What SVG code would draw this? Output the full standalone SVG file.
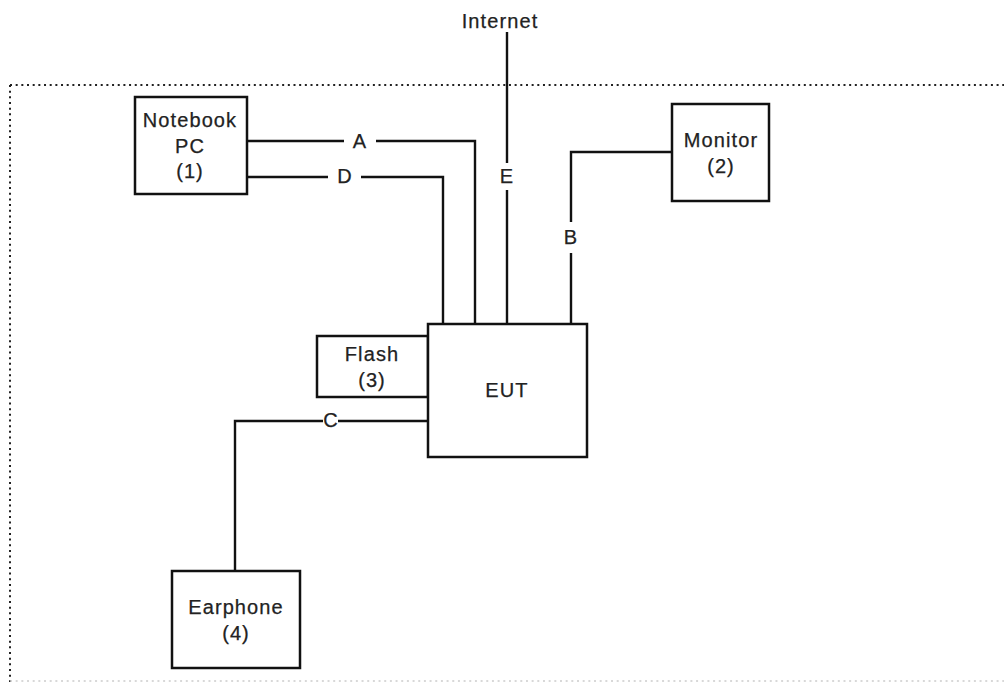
<svg xmlns="http://www.w3.org/2000/svg" width="1004" height="682" viewBox="0 0 1004 682">
<style>
.box{fill:#fff;stroke:#111;stroke-width:2.5}
.ln{fill:none;stroke:#111;stroke-width:2.4}
.t{font-family:"Liberation Sans",Arial,sans-serif;font-size:20px;letter-spacing:1.1px;fill:#222;stroke:#222;stroke-width:0.25;text-anchor:middle}
.dot{fill:none;stroke:#222;stroke-width:2;stroke-dasharray:2 3.67}
</style>
<rect width="1004" height="682" fill="#fff"/>
<g id="border">
<path class="dot" d="M10,85 H1004"/>
<path class="dot" d="M10,85 V682"/>
<path d="M10,681 H1004" fill="none" stroke="#ccc" stroke-width="1.5" stroke-dasharray="2 3.67"/>
</g>
<g id="connectors">
<path class="ln" d="M247,141 H344 M376,141 H475 V324"/>
<path class="ln" d="M247,177 H328 M361,177 H443 V324"/>
<path class="ln" d="M507,32 V163 M507,190 V324"/>
<path class="ln" d="M672,152 H571 V222 M571,253 V324"/>
<path class="ln" d="M428,421 H338 M323,421 H235 V571"/>
<text class="t" x="360" y="148">A</text>
<text class="t" x="345" y="183">D</text>
<text class="t" x="507" y="183">E</text>
<text class="t" x="571" y="244">B</text>
<text class="t" x="331" y="427">C</text>
</g>
<g id="internet">
<text class="t" x="500" y="28">Internet</text>
</g>
<g id="notebook">
<rect class="box" x="135" y="97" width="112" height="97"/>
<text class="t" x="190" y="127">Notebook</text>
<text class="t" x="190" y="153">PC</text>
<text class="t" x="190" y="178">(1)</text>
</g>
<g id="monitor">
<rect class="box" x="672" y="104" width="97" height="97"/>
<text class="t" x="721" y="147">Monitor</text>
<text class="t" x="721" y="173">(2)</text>
</g>
<g id="flash">
<rect class="box" x="317" y="336" width="111" height="61"/>
<text class="t" x="372" y="361">Flash</text>
<text class="t" x="372" y="387">(3)</text>
</g>
<g id="eut">
<rect class="box" x="428" y="324" width="159" height="133"/>
<text class="t" x="507" y="397">EUT</text>
</g>
<g id="earphone">
<rect class="box" x="172" y="571" width="128" height="97"/>
<text class="t" x="236" y="614">Earphone</text>
<text class="t" x="236" y="640">(4)</text>
</g>
</svg>
